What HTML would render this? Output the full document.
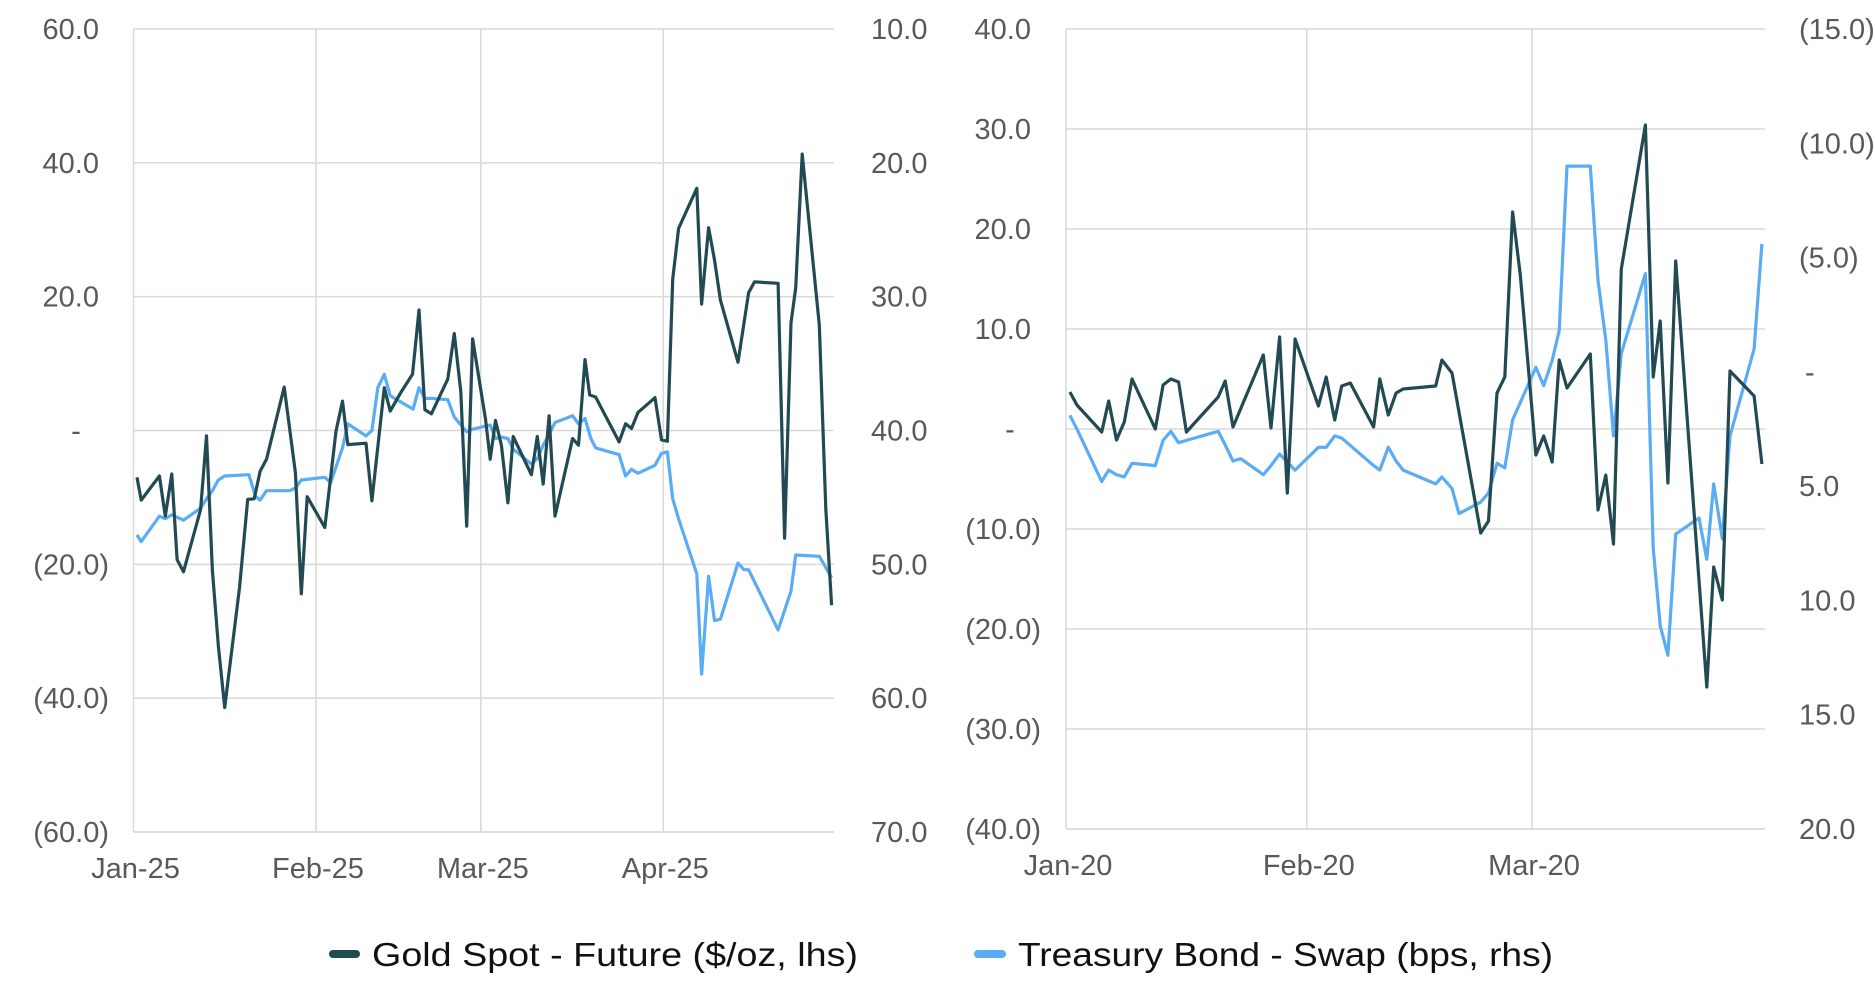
<!DOCTYPE html>
<html><head><meta charset="utf-8"><style>
html,body{margin:0;padding:0;background:#fff;}
svg{display:block;font-family:"Liberation Sans",sans-serif;}
</style></head><body>
<svg id="chart" width="1875" height="989" viewBox="0 0 1875 989" xmlns="http://www.w3.org/2000/svg">
<g id="left"></g>
<g id="right"></g>
<g>
  <g>
    <line x1="333" y1="954" x2="356" y2="954" stroke="#224a52" stroke-width="8" stroke-linecap="round"/>
    <text x="372" y="966" font-size="33" fill="#111" textLength="486" lengthAdjust="spacingAndGlyphs">Gold Spot - Future ($/oz, lhs)</text>
  </g>
  <g>
    <line x1="978" y1="954" x2="1002" y2="954" stroke="#5aacf5" stroke-width="8" stroke-linecap="round"/>
    <text x="1018" y="966" font-size="33" fill="#111" textLength="535" lengthAdjust="spacingAndGlyphs">Treasury Bond - Swap (bps, rhs)</text>
  </g>
</g>
</svg>
<script>
// ---- Left panel data (days since Jan 1 2025) ----
const goldDays25 = [0.6,1.3,4.4,5.4,6.5,7.4,8.5,11.4,12.4,13.4,14.4,15.5,18.0,19.4,20.5,21.5,22.6,25.6,27.5,28.5,29.5,32.5,34.4,35.5,36.4,39.5,40.5,42.6,43.6,45.5,47.4,48.5,49.5,50.6,53.4,54.5,55.6,56.6,57.6,59.8,60.6,61.5,62.5,63.6,64.5,67.6,68.6,69.6,70.6,71.6,74.6,75.6,76.7,77.5,78.5,82.5,83.6,84.6,85.7,88.6,89.7,90.7,91.6,92.6,95.7,96.5,97.7,98.7,99.7,102.7,104.5,105.5,109.5,110.6,111.7,112.5,113.6,116.5,117.6,118.6];
const goldVals25 = [-7.0,-10.4,-6.8,-12.8,-6.5,-19.3,-21.1,-11.8,-0.8,-20.9,-32.1,-41.4,-23.5,-10.3,-10.2,-6.1,-4.3,6.5,-6.3,-24.4,-9.9,-14.5,-0.1,4.4,-2.1,-1.9,-10.5,6.4,2.9,5.8,8.4,18.0,3.1,2.5,7.7,14.5,5.8,-14.3,13.7,1.7,-4.3,1.5,-2.2,-10.8,-0.9,-6.6,-0.9,-8.0,2.2,-12.8,-1.2,-2.2,10.6,5.3,5.0,-1.7,1.0,0.3,2.7,4.9,-1.4,-1.6,22.6,30.2,36.2,18.9,30.3,25.5,19.5,10.2,20.6,22.2,22.0,-16.1,16.1,21.3,41.3,15.8,-11.7,-26.1];
const tsyDays25 = [0.6,1.3,4.4,5.4,6.5,8.5,11.4,12.4,13.4,14.4,15.5,19.6,20.7,21.5,22.6,26.5,27.5,28.5,32.5,33.5,35.5,36.4,39.5,40.5,41.5,42.6,43.6,47.5,48.5,49.5,50.6,53.4,54.5,56.6,57.6,60.6,61.5,62.5,63.6,64.5,67.6,68.6,69.6,70.6,71.6,74.6,75.6,76.7,77.7,78.5,82.5,83.6,84.6,85.7,88.6,89.7,90.7,91.6,92.6,95.7,96.5,97.7,98.7,99.7,102.7,103.7,104.5,109.5,111.7,112.5,116.5,118.6];
const tsyVals25 = [47.8,48.3,46.4,46.6,46.3,46.7,45.8,45.1,44.5,43.7,43.4,43.3,44.9,45.2,44.5,44.5,44.3,43.7,43.5,43.9,41.3,39.5,40.4,40.0,36.8,35.8,37.4,38.4,36.8,37.6,37.6,37.7,39.0,40.1,39.9,39.6,40.6,40.5,40.6,41.4,42.5,42.1,41.1,40.3,39.4,38.9,39.5,39.1,40.6,41.3,41.8,43.4,42.9,43.2,42.6,41.7,41.6,45.1,46.6,50.7,58.2,50.9,54.2,54.1,49.9,50.4,50.4,54.9,52.0,49.3,49.4,51.0];
const leftTicksL = [60,40,20,0,-20,-40,-60];
const leftTicksR = [10,20,30,40,50,60,70];
const monthDays25 = [0,31,59,90];
const monthLabels25 = ["Jan-25","Feb-25","Mar-25","Apr-25"];

// ---- Right panel data (days since Jan 1 2020) ----
const goldDays20 = [0.5,1.4,4.6,5.5,6.5,7.5,8.5,11.5,12.5,13.5,14.5,15.5,19.6,20.5,21.5,25.4,26.4,27.5,28.5,29.5,32.5,33.5,34.6,35.5,36.6,39.6,40.4,41.5,42.5,43.4,47.6,48.4,49.7,53.4,54.4,55.5,56.5,57.5,58.5,60.5,61.5,62.6,63.5,64.5,67.5,68.5,69.5,70.5,71.5,74.6,75.6,76.5,77.5,78.5,82.5,83.4,84.5,85.5,88.6,89.6];
const goldVals20 = [3.7,2.4,-0.3,2.8,-1.1,0.7,5.0,0.0,4.4,5.0,4.7,-0.3,3.2,4.8,0.2,7.4,0.1,9.2,-6.4,9.0,2.3,5.2,0.9,4.3,4.6,0.2,5.0,1.4,3.6,4.0,4.3,6.9,5.6,-10.4,-9.2,3.6,5.2,21.7,15.4,-2.6,-0.7,-3.3,6.9,4.1,7.5,-8.1,-4.6,-11.5,16.0,30.4,5.2,10.8,-5.4,16.8,-25.8,-13.8,-17.1,5.8,3.3,-3.5];
const tsyDays20 = [0.5,1.4,4.6,5.5,6.5,7.5,8.5,11.5,12.5,13.5,14.5,15.5,19.6,20.5,21.5,22.5,25.4,26.4,27.5,29.5,32.5,33.5,34.6,35.5,39.6,40.4,41.5,42.5,43.4,47.6,48.4,49.7,50.6,53.4,54.4,55.5,56.5,57.5,60.5,61.5,62.6,63.5,64.5,67.5,68.5,69.5,70.5,71.5,74.6,75.6,76.5,77.5,78.5,81.5,82.5,83.4,84.5,85.5,88.6,89.6];
const tsyVals20 = [1.9,2.5,4.8,4.3,4.5,4.6,4.0,4.1,3.0,2.6,3.1,3.0,2.6,3.2,3.9,3.8,4.5,4.1,3.6,4.3,3.3,3.3,2.8,2.9,4.1,4.3,3.3,3.9,4.3,4.9,4.6,5.1,6.2,5.7,5.3,4.0,4.2,2.1,-0.2,0.6,-0.5,-1.8,-9.0,-9.0,-4.0,-1.4,2.8,-0.8,-4.3,7.7,11.1,12.4,7.1,6.4,8.2,4.9,7.3,2.8,-1.0,-5.6];
const rightTicksL = [40,30,20,10,0,-10,-20,-30,-40];
const rightTicksR = [-15,-10,-5,0,5,10,15,20];
const monthDays20 = [0,31,60];
const monthLabels20 = ["Jan-20","Feb-20","Mar-20"];

const NS = "http://www.w3.org/2000/svg";
function mk(parent, tag, attrs){ const e=document.createElementNS(NS,tag); for(const k in attrs) e.setAttribute(k,attrs[k]); parent.appendChild(e); return e; }
function fmt(v){ if(v===0) return "-"; const s=Math.abs(v).toFixed(1); return v<0?"("+s+")":s; }

function panel(g, cfg){
  const {x0,x1,y0,y1,dMax,lMin,lMax,rMin,rMax} = cfg;
  const xS = d => x0 + d/dMax*(x1-x0);
  const yL = v => y0 + (lMax - v)/(lMax-lMin)*(y1-y0);
  const yR = v => y0 + (v - rMin)/(rMax-rMin)*(y1-y0); // inverted: rMin at top
  // horizontal gridlines & left labels
  cfg.ticksL.forEach(t=>{
    const y=yL(t);
    const gl=mk(g,"line",{x1:x0,x2:x1,y1:y,y2:y,stroke:"#d9d9d9","stroke-width":1.5});
    
    
    let tx, anchor="end";
    if(t===0){ tx=cfg.lDash; anchor="middle"; } else if(t<0){ tx=cfg.lNeg; } else { tx=cfg.lPos; }
    const lb=mk(g,"text",{x:tx,y:y+10,"font-size":29,fill:"#595959","text-anchor":anchor});
    lb.textContent=fmt(t);
    
    
  });
  cfg.ticksR.forEach(t=>{
    const y=yR(t);
    const lb=mk(g,"text",{x:t===0?cfg.rX+6:cfg.rX,y:y+10,"font-size":29,fill:"#595959","text-anchor":"start"});
    lb.textContent=fmt(t);
    
    
  });
  // vertical month gridlines & labels
  cfg.months.forEach((d,i)=>{
    const x=xS(d);
    const vl=mk(g,"line",{x1:x,x2:x,y1:y0,y2:y1,stroke:"#d9d9d9","stroke-width":1.5});
    
    
    const lb=mk(g,"text",{x:x+2,y:y1+46,"font-size":29,fill:"#595959","text-anchor":"middle"});
    lb.textContent=cfg.monthLabels[i];
    
    
  });
  const ax=mk(g,"line",{x1:x0,x2:x1,y1:y1,y2:y1,stroke:"#d9d9d9","stroke-width":1.5});
  
  
  // series
  const tp = cfg.tDays.map((d,i)=>xS(d).toFixed(1)+","+yR(cfg.tVals[i]).toFixed(1)).join(" ");
  const tl=mk(g,"polyline",{points:tp,fill:"none",stroke:"#5aacf5","stroke-width":3.2,"stroke-linejoin":"round"});
  
  
  const gp = cfg.gDays.map((d,i)=>xS(d).toFixed(1)+","+yL(cfg.gVals[i]).toFixed(1)).join(" ");
  const gln=mk(g,"polyline",{points:gp,fill:"none",stroke:"#224a52","stroke-width":3.2,"stroke-linejoin":"round"});
  
  
}

panel(document.getElementById("left"),{
  x0:133.5,x1:834,y0:29,y1:832,dMax:119,lMin:-60,lMax:60,rMin:10,rMax:70,
  ticksL:leftTicksL,ticksR:leftTicksR,lPos:99,lNeg:109,lDash:76,rX:871,
  months:monthDays25,monthLabels:monthLabels25,
  gDays:goldDays25,gVals:goldVals25,tDays:tsyDays25,tVals:tsyVals25
});
panel(document.getElementById("right"),{
  x0:1066,x1:1765,y0:29,y1:829,dMax:90,lMin:-40,lMax:40,rMin:-15,rMax:20,
  ticksL:rightTicksL,ticksR:rightTicksR,lPos:1031,lNeg:1041,lDash:1010,rX:1799,
  months:monthDays20,monthLabels:monthLabels20,
  gDays:goldDays20,gVals:goldVals20,tDays:tsyDays20,tVals:tsyVals20
});
</script>
</body></html>
